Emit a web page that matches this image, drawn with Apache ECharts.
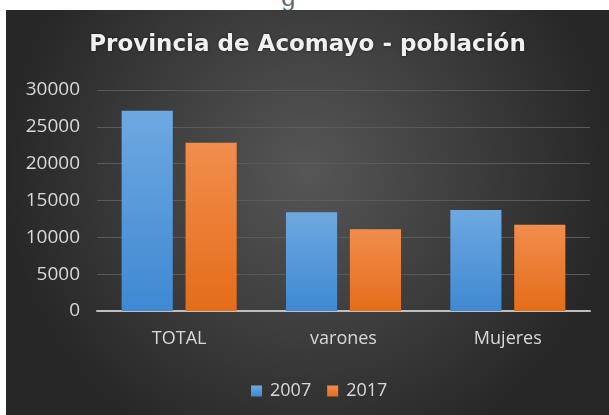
<!DOCTYPE html>
<html>
<head>
<meta charset="utf-8">
<script src="https://cdn.jsdelivr.net/npm/echarts@6/dist/echarts.min.js"></script>
<style>
  html, body { margin: 0; padding: 0; background: #ffffff; overflow: hidden; }
  #frag { position: absolute; left: 281px; top: -16px; font: 24px "DejaVu Serif", serif; color: #5a6470; }
  /* chart panel */
  #main { position: absolute; left: 6px; top: 10px; width: 603px; height: 405px; }
</style>
</head>
<body>
<div id="frag">g</div>
<div id="main"></div>
<script>
  var categories = ['TOTAL', 'varones', 'Mujeres'];
  var years = ['2007', '2017'];
  var values2007 = [27200, 13400, 13700];
  var values2017 = [22850, 11100, 11700];
  var yTicks = [0, 5000, 10000, 15000, 20000, 25000, 30000];

  var myChart = echarts.init(document.getElementById('main'));

  function grad(top, bottom) {
    return new echarts.graphic.LinearGradient(0, 0, 0, 1, [
      {offset: 0, color: top},
      {offset: 1, color: bottom}
    ]);
  }

  var option = {
    backgroundColor: new echarts.graphic.RadialGradient(0.5, 0.4, 0.75, [
      {offset: 0, color: '#565656'},
      {offset: 1, color: '#272727'}
    ]),
    title: {
      text: 'Provincia de Acomayo - población',
      left: 'center',
      top: 19,
      textStyle: {
        color: '#f0f0f0',
        fontFamily: 'DejaVu Sans',
        fontWeight: 'bold',
        fontSize: 23,
        textShadowColor: 'rgba(0,0,0,0.6)',
        textShadowBlur: 3
      }
    },
    legend: {
      data: years,
      top: 367,
      left: 240,
      itemWidth: 11,
      itemHeight: 11,
      itemGap: 16,
      icon: 'rect',
      textStyle: {color: '#d9d9d9', fontSize: 18, fontFamily: 'Open Sans', padding: [0, 0, 0, 3]}
    },
    grid: {
      left: 91,
      right: 19,
      top: 80,
      bottom: 104
    },
    xAxis: {
      type: 'category',
      data: categories,
      axisTick: {show: false},
      axisLine: {lineStyle: {color: '#bfbfbf', width: 2}},
      axisLabel: {color: '#d9d9d9', fontSize: 18, fontFamily: 'Open Sans', margin: 19}
    },
    yAxis: {
      type: 'value',
      min: yTicks[0],
      max: yTicks[yTicks.length - 1],
      interval: yTicks[1] - yTicks[0],
      axisLine: {show: false},
      axisTick: {show: false},
      axisLabel: {
        color: '#d9d9d9', fontSize: 19, fontFamily: 'Open Sans', margin: 17,
        formatter: function (v) { return String(v); }
      },
      splitLine: {lineStyle: {color: '#5a5a5a', width: 1}}
    },
    series: [
      {
        name: years[0],
        type: 'bar',
        data: values2007,
        barGap: '25%',
        barCategoryGap: '30%',
        itemStyle: {
          color: grad('#6ea8e0', '#3f89d3'),
          shadowBlur: 6,
          shadowColor: 'rgba(0,0,0,0.5)'
        }
      },
      {
        name: years[1],
        type: 'bar',
        data: values2017,
        itemStyle: {
          color: grad('#f28d4d', '#e46d19'),
          shadowBlur: 6,
          shadowColor: 'rgba(0,0,0,0.5)'
        }
      }
    ],
    color: ['#4a90d9', '#ed7d31']
  };
  myChart.setOption(option);
</script>
</body>
</html>
